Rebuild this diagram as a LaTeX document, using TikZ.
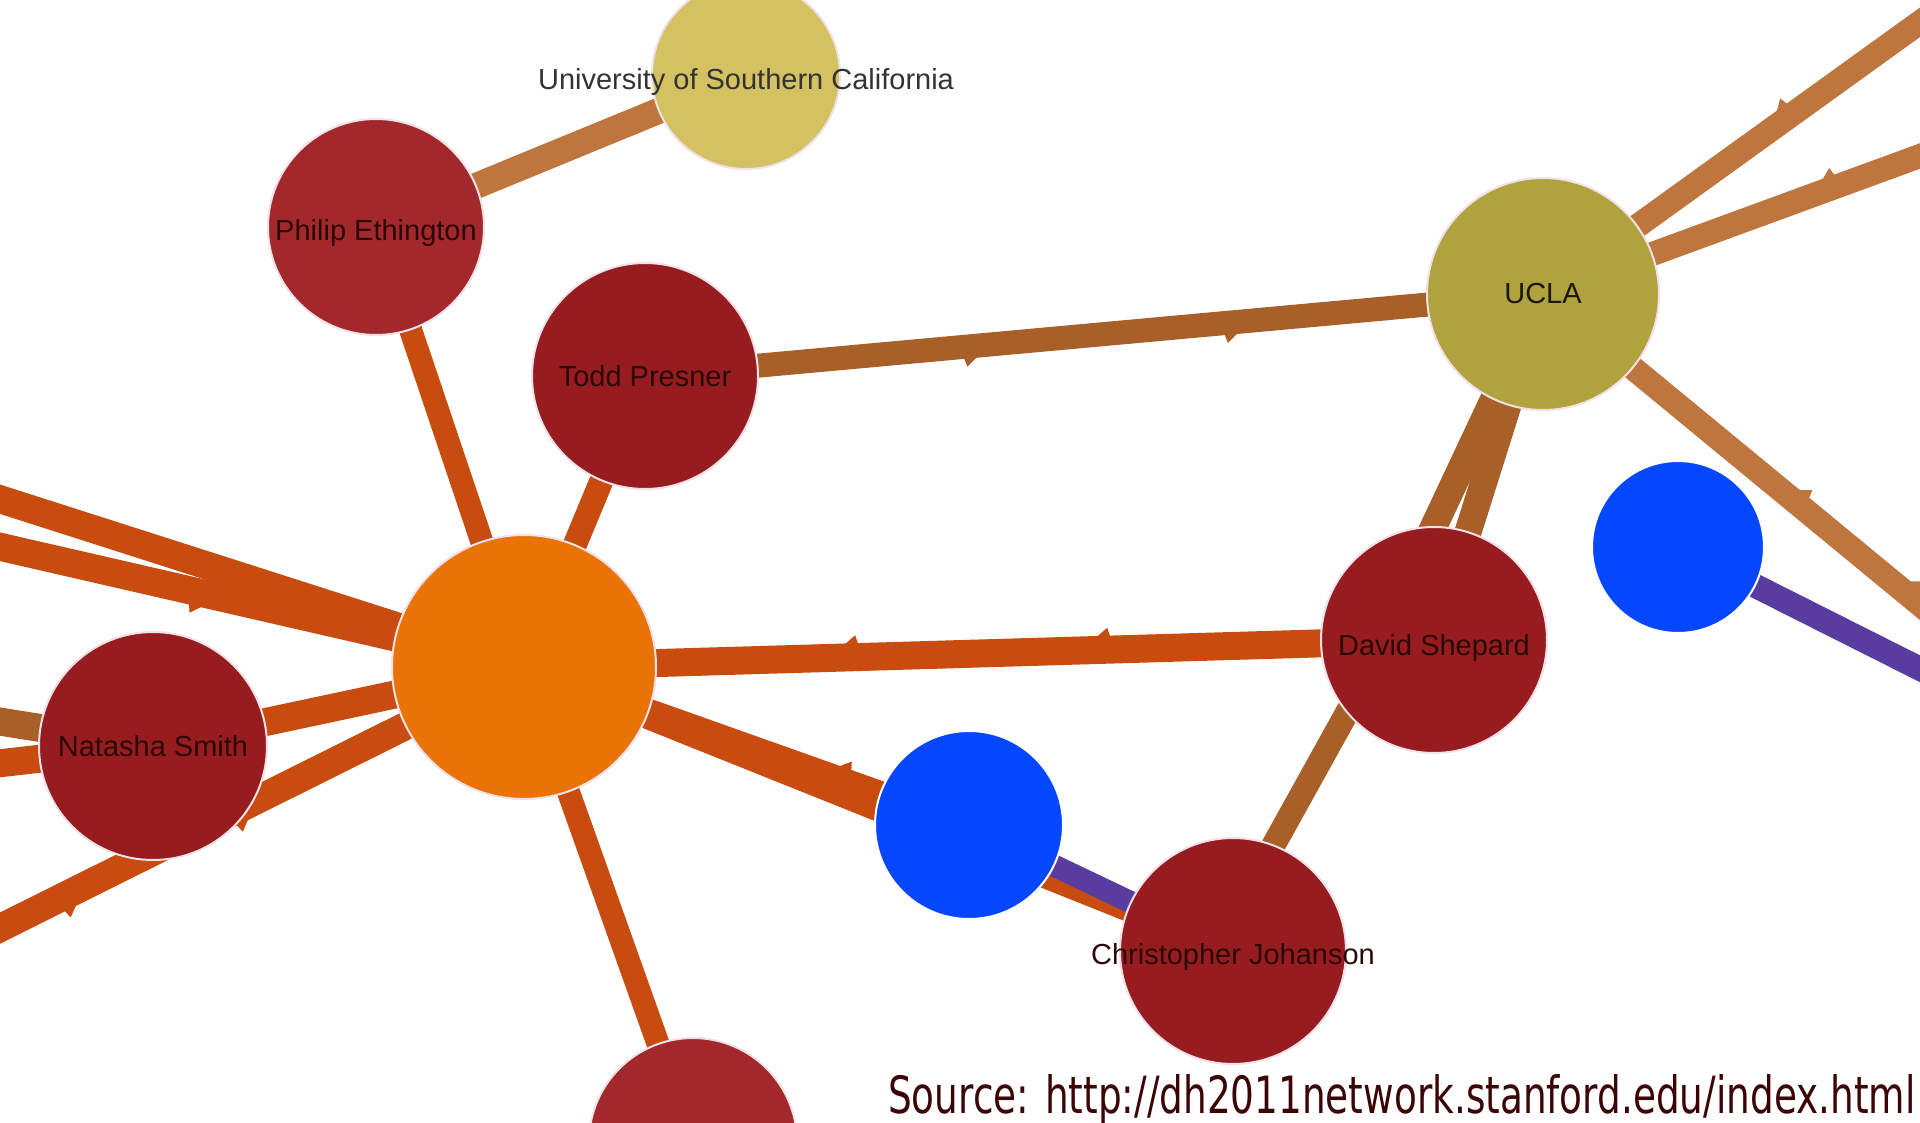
\documentclass[tikz,border=0pt]{standalone}
\usepackage{fontspec}
\usepackage{graphicx}
\usetikzlibrary{backgrounds,decorations.markings}
\newfontfamily\tagfont{Liberation Sans}
\newfontfamily\srcfont{DejaVu Sans}
\definecolor{cHub}{HTML}{E97305}
\definecolor{cPerson}{HTML}{961C1F}
\definecolor{cPersonB}{HTML}{A2282C}
\definecolor{cUSC}{HTML}{D4C162}
\definecolor{cUCLA}{HTML}{B0A23C}
\definecolor{cBlue}{HTML}{0546FF}
\definecolor{cRim}{HTML}{F0E0E8}
\definecolor{eHub}{HTML}{C84B0F}
\definecolor{eBrown}{HTML}{A85F28}
\definecolor{eTan}{HTML}{BE763E}
\definecolor{ePurple}{HTML}{5A3CA0}
\definecolor{cInk}{HTML}{2B0808}
\definecolor{cSrc}{HTML}{3C0404}
% small half-arrow spike sitting on the left flank of a thick edge
\newcommand\barbtip{\fill[shorten <=0pt,shorten >=0pt]
  (3pt,{0.5*\pgflinewidth-2pt}) -- (-12pt,{0.5*\pgflinewidth-2pt})
  -- (0pt,{0.5*\pgflinewidth+8pt}) -- cycle;}
\tikzset{
  spot/.style={circle,draw=cRim,line width=2pt,inner sep=0pt,minimum size=#1},
  tagtext/.style={font=\tagfont\fontsize{29}{32}\selectfont,text=cInk,inner sep=0pt},
  wire/.style={line width=#1,shorten <=-10pt,shorten >=-10pt},
  barb/.style={postaction={decorate,decoration={markings,
    mark=at position #1 with {\barbtip}}}},
}

\begin{document}
\begin{tikzpicture}[x=1pt,y=-1pt]
  \useasboundingbox (0,0) rectangle (1920,1123);
  % the circles
  \node[spot=188pt,fill=cUSC,label={[tagtext,text=black!80,yshift=-7pt]center:University of Southern California}] (usc) at (746,75) {};
  \node[spot=216pt,fill=cPersonB,label={[tagtext,yshift=-6pt]center:Philip Ethington}] (philip) at (376,227) {};
  \node[spot=226pt,fill=cPerson,label={[tagtext]center:Todd Presner}] (todd) at (645,376) {};
  \node[spot=232pt,fill=cUCLA,label={[tagtext,text=black!85!cUCLA]center:UCLA}] (ucla) at (1543,294) {};
  \node[spot=264pt,fill=cHub] (hub) at (524,667) {};
  \node[spot=228pt,fill=cPerson,label={[tagtext]center:Natasha Smith}] (natasha) at (153,746) {};
  \node[spot=226pt,fill=cPerson,label={[tagtext,yshift=-8pt]center:David Shepard}] (david) at (1434,640) {};
  \node[spot=172pt,fill=cBlue,draw=white] (blueR) at (1678,547) {};
  \node[spot=188pt,fill=cBlue,draw=white] (blueM) at (969,825) {};
  \node[spot=226pt,fill=cPerson,label={[tagtext,yshift=-6pt]center:Christopher Johanson}] (chris) at (1233,951) {};
  \node[spot=208pt,fill=cPersonB] (lower) at (693,1142) {};
  % loose ends beyond the frame
  \coordinate (lA) at (-60,480);
  \coordinate (lB) at (-60,533);
  \coordinate (lC) at (-60,958);
  \coordinate (nB) at (-60,712);
  \coordinate (nO) at (-60,770);
  \coordinate (u1) at (1980,-21);
  \coordinate (u2) at (1980,134);
  \coordinate (dR) at (1980,654);
  \coordinate (pR) at (1980,699);

  \begin{pgfonlayer}{background}
    \foreach \t/\w in {philip/23pt,todd/24pt,lower/23pt,natasha/28pt,chris/25pt,lA/28pt}
      \draw[wire=\w,eHub] (hub) -- (\t);
    \draw[wire=28pt,eHub,barb=0.44] (hub) -- (lB);
    \draw[wire=28pt,eHub,barb=0.37,barb=0.74] (hub) -- (lC);
    \draw[wire=28pt,eHub,barb=0.30,barb=0.68] (hub) -- (david);
    \draw[wire=25pt,eHub,barb=0.85] (hub) -- (blueM);
    \draw[wire=28pt,eBrown] (natasha) -- (nB);
    \draw[wire=28pt,eHub] (natasha) -- (nO);
    \draw[wire=26pt,eTan] (philip) -- (usc);
    \draw[wire=24pt,eBrown,barb=0.30,barb=0.69] (ucla) -- (todd);
    \draw[wire=27pt,eBrown] (ucla) -- (david);
    \draw[wire=27pt,eBrown] (ucla) -- (david.north);
    \draw[wire=24pt,eTan,barb=0.45] (ucla) -- (u1);
    \draw[wire=24pt,eTan,barb=0.56] (ucla) -- (u2);
    \draw[wire=24pt,eTan,barb=0.48,barb=0.80] (ucla) -- (dR);
    \draw[wire=24pt,eBrown] (chris.69) -- (david.220);
    \draw[wire=22pt,ePurple] (blueM) -- (chris);
    \draw[wire=24pt,ePurple] (blueR) -- (pR);
  \end{pgfonlayer}

  \node[anchor=base west,inner sep=0pt,text=cSrc] (src) at (888,1113)
    {\resizebox{1027pt}{39pt}{\srcfont Source: http://dh2011network.stanford.edu/index.html}};
\end{tikzpicture}
\end{document}
